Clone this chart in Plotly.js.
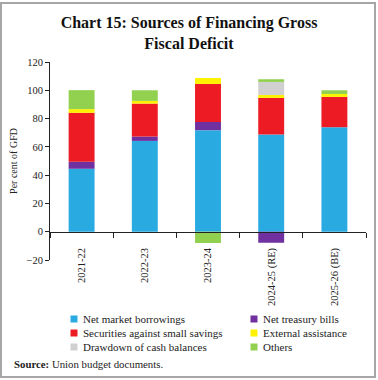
<!DOCTYPE html>
<html><head><meta charset="utf-8">
<script src="https://cdn.plot.ly/plotly-3.0.1.min.js"></script>
<style>
html,body{margin:0;padding:0;background:#fff;}
#wrap{position:relative;width:378px;height:380px;}
#chart{width:378px;height:380px;}
#frame{position:absolute;left:0;top:2px;width:376px;height:376px;border:2px solid #a6a6a6;box-sizing:border-box;pointer-events:none;}
</style></head>
<body>
<div id="wrap"><div id="chart"></div><div id="frame"></div></div>
<script>
const categories = ['2021-22','2022-23','2023-24','2024-25 (RE)','2025-26 (BE)'];
const netMarketBorrowings = [44.5, 64.2, 71.8, 68.7, 73.9];
const netTreasuryBills    = [5.0, 3.1, 5.8, -7.8, 0];
const smallSavings        = [34.6, 23.3, 26.9, 25.9, 21.4];
const externalAssistance  = [2.6, 1.9, 4.2, 2.1, 2.1];
const cashDrawdown        = [0, 0, 0, 9.2, 0];
const others              = [13.4, 7.5, -8.0, 1.9, 2.6];

const seriesNames = ['Net market borrowings','Net treasury bills','Securities against small savings','External assistance','Drawdown of cash balances','Others'];
const seriesValues = [netMarketBorrowings, netTreasuryBills, smallSavings, externalAssistance, cashDrawdown, others];
const seriesColors = ['#29abe2','#7030a0','#ed1c24','#fff200','#d0d0d0','#92d050'];

const FONT = 'Liberation Serif, DejaVu Serif, serif';
const traces = seriesNames.map((n,i)=>({
  type:'bar', name:n, x:categories, y:seriesValues[i],
  marker:{color:seriesColors[i], line:{width:0}}, showlegend:false
}));

const W=378, H=380;
const mL=50, mR=12, plotTop=62, plotBottom=260;
const pw = W-mL-mR, ph = plotBottom-plotTop;
const px = v => (v-mL)/pw;          // pixel x -> paper
const py = v => (plotBottom-v)/ph;  // pixel y -> paper
const yMin=-20, yMax=120;
const zeroFrac = (0 - yMin)/(yMax - yMin);

// legend built as text + colour keys, two columns
const legendCols = [70.5, 250.5], legendRows = [319, 333, 347], keySize = 7, keyGap = 3.5;
const annotations = [], shapes = [];
seriesNames.forEach((n,i)=>{
  const cx = legendCols[i%2], cy = legendRows[Math.floor(i/2)];
  shapes.push({type:'rect', xref:'paper', yref:'paper', x0:px(cx), x1:px(cx+keySize), y0:py(cy+keySize/2), y1:py(cy-keySize/2),
               fillcolor:seriesColors[i], line:{width:0}});
  annotations.push({text:n, xref:'paper', yref:'paper', x:px(cx+keySize+keyGap), xanchor:'left', y:py(cy), yanchor:'middle',
                    showarrow:false, font:{size:11, color:'#222'}});
});
annotations.push({text:'<b>Source:</b> Union budget documents.', xref:'paper', yref:'paper', x:px(12), xanchor:'left',
                  y:py(364), yanchor:'middle', showarrow:false, font:{size:10.8, color:'#222'}});

const layout = {
  width:W, height:H,
  margin:{l:mL, r:mR, t:plotTop, b:H-plotBottom, autoexpand:false},
  paper_bgcolor:'#fff', plot_bgcolor:'#fff',
  barmode:'relative', bargap:0.59,
  font:{family:FONT, color:'#222', size:10},
  showlegend:false,
  title:{text:'<b>Chart 15: Sources of Financing Gross<br>Fiscal Deficit</b>', font:{family:FONT, size:16, color:'#111'},
         x:0.5, xanchor:'center', xref:'container', y:1-28/H, yanchor:'middle', yref:'container'},
  xaxis:{type:'category', anchor:'free', position:zeroFrac, showline:true, linecolor:'#222', linewidth:1,
         ticks:'outside', tickson:'boundaries', ticklen:5, tickcolor:'#222', tickangle:-90, ticklabelstandoff:11,
         showgrid:false, zeroline:false, tickfont:{size:10.5, color:'#222'}, automargin:false},
  yaxis:{range:[yMin,yMax], dtick:20, showline:true, linecolor:'#222', linewidth:1, ticks:'outside', ticklen:4, tickcolor:'#222',
         showgrid:false, zeroline:false, tickfont:{size:10.5, color:'#222'}, automargin:false,
         title:{text:'Per cent of GFD', font:{size:10, color:'#222'}, standoff:6}},
  annotations:annotations, shapes:shapes
};
Plotly.newPlot('chart', traces, layout, {displayModeBar:false, staticPlot:true});
</script>
</body></html>
